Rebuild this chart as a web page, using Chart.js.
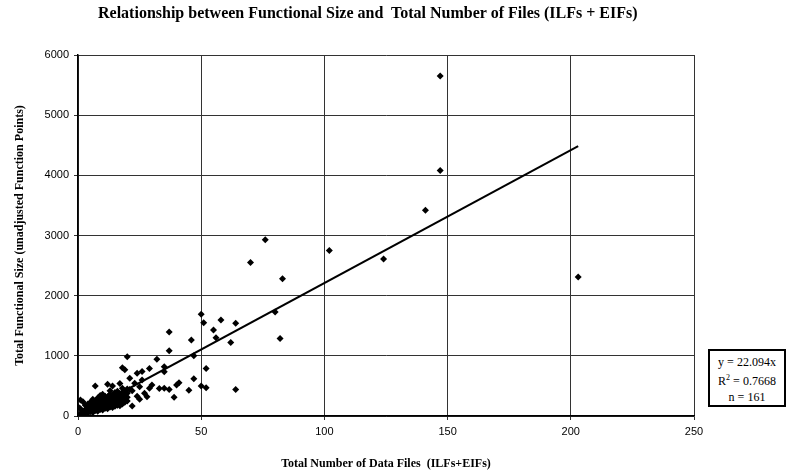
<!DOCTYPE html>
<html>
<head>
<meta charset="utf-8">
<script src="https://cdn.jsdelivr.net/npm/chart.js@4/dist/chart.umd.min.js"></script>
<style>
  body { margin: 0; background: #fff; }
  #wrap { position: relative; width: 793px; height: 471px; }
  #title {
    position: absolute; left: 98px; top: 4px; white-space: pre;
    font-family: "Liberation Serif", "Times New Roman", serif; font-size: 16px;
    font-weight: bold; line-height: 18px; color: #000;
  }
  #statBox {
    position: absolute; left: 708px; top: 349px; width: 78px; height: 58px;
    border: 2px solid #000; box-sizing: border-box;
    font-family: "Liberation Serif", "Times New Roman", serif; font-size: 12px;
    text-align: center; line-height: 16px; padding-top: 3px; background: #fff;
  }
</style>
</head>
<body>
<div id="wrap">
  <canvas id="chart" width="793" height="471"></canvas>
  <div id="title">Relationship between Functional Size and  Total Number of Files (ILFs + EIFs)</div>
  <div id="statBox">y = 22.094x<br>R<sup style="font-size:8px">2</sup> = 0.7668<br>n = 161</div>
</div>
<script>
// data files (ILFs+EIFs) vs functional size (UFP)
const filesX = [
  147, 147, 141, 76, 83, 102, 124, 203, 70,
  50, 51, 58, 64, 37, 46, 55, 56, 62, 37, 80, 82, 47, 52, 32, 29, 26, 35, 35,
  41, 47, 50, 52, 45, 64, 33, 35, 37, 39, 28, 40, 30, 0, 1, 2, 20, 18, 19, 7,
  12, 14, 22, 25, 26, 24, 21, 23, 25, 21, 22, 29, 27, 24, 17,
  1, 1, 2, 2, 3, 3, 3, 4, 4, 4, 4, 5, 5, 5, 5, 6, 6, 6, 6, 6,
  7, 7, 7, 7, 8, 8, 8, 8, 8, 9, 9, 9, 9, 9, 10, 10, 10, 10, 10, 10,
  11, 11, 11, 11, 11, 12, 12, 12, 12, 12, 13, 13, 13, 13, 13, 13,
  14, 14, 14, 14, 14, 15, 15, 15, 15, 15, 16, 16, 16, 16, 16,
  17, 17, 17, 17, 18, 18, 18, 18, 18, 19, 19, 19, 19, 20, 20, 20, 20
];
const sizeY = [
  5650, 4080, 3420, 2930, 2280, 2750, 2610, 2310, 2550,
  1690, 1550, 1595, 1540, 1395, 1262, 1430, 1300, 1220, 1085, 1730, 1290, 1000, 790, 945, 790, 740, 820, 736,
  553, 620, 500, 470, 430, 440, 455, 460, 440, 310, 321, 515, 515, 155, 266, 238, 985, 800, 770, 500,
  527, 498, 166, 277, 600, 710, 626, 543, 488, 440, 420, 460, 380, 330, 540,
  40, 120, 30, 80, 60, 110, 180, 50, 90, 140, 200, 70, 120, 180, 230, 60, 100, 150, 210, 280,
  90, 140, 190, 250, 80, 130, 170, 230, 300, 110, 160, 210, 260, 340, 100, 150, 190, 240, 290, 360,
  130, 180, 220, 280, 330, 120, 170, 230, 270, 320, 150, 200, 250, 300, 360, 420,
  140, 190, 240, 290, 350, 160, 210, 270, 330, 390, 180, 230, 280, 340, 410,
  170, 250, 300, 370, 200, 260, 320, 390, 460, 230, 290, 350, 420, 250, 310, 380, 450
];
const slope = 22.094;
const fitRange = [0, 203];
const xTicks = [0, 50, 100, 150, 200, 250];
const yTicks = [0, 1000, 2000, 3000, 4000, 5000, 6000];

const points = filesX.map((x, i) => ({ x: x, y: sizeY[i] }));
const fitLine = fitRange.map(x => ({ x: x, y: slope * x }));

const serif = "'Liberation Serif', 'Times New Roman', serif";
const sans = "'Liberation Sans', Arial, sans-serif";

new Chart(document.getElementById("chart"), {
  type: "scatter",
  data: {
    datasets: [
      {
        data: points,
        pointStyle: "rectRot",
        pointRadius: 3.5,
        backgroundColor: "#000",
        borderColor: "#000",
        borderWidth: 0
      },
      {
        type: "line",
        data: fitLine,
        borderColor: "#000",
        borderWidth: 2,
        pointRadius: 0,
        fill: false
      }
    ]
  },
  options: {
    responsive: false,
    animation: false,
    layout: { padding: { left: 0, right: 99, top: 55, bottom: 0 } },
    plugins: {
      legend: { display: false },
      tooltip: { enabled: false },
      title: { display: false }
    },
    scales: {
      x: {
        type: "linear",
        min: 0,
        max: 250,
        afterBuildTicks: s => { s.ticks = xTicks.map(v => ({ value: v })); },
        afterFit: s => { s.height = 55; },
        grid: { color: "#333", lineWidth: 1, tickLength: 4, drawTicks: true },
        border: { color: "#000", width: 1.5 },
        ticks: { color: "#000", font: { family: sans, size: 11 }, padding: 5, maxRotation: 0 },
        title: {
          display: true,
          text: "Total Number of Data Files  (ILFs+EIFs)",
          color: "#000",
          font: { family: serif, size: 12, weight: "bold" },
          padding: { top: 8, bottom: 0 }
        }
      },
      y: {
        min: 0,
        max: 6000,
        afterBuildTicks: s => { s.ticks = yTicks.map(v => ({ value: v })); },
        afterFit: s => { s.width = 78; },
        grid: { color: "#333", lineWidth: 1, tickLength: 4, drawTicks: true },
        border: { color: "#000", width: 1.5 },
        ticks: { color: "#000", font: { family: sans, size: 11 }, padding: 5, callback: v => String(v) },
        title: {
          display: true,
          text: "Total Functional Size (unadjusted Function Points)",
          color: "#000",
          font: { family: serif, size: 12, weight: "bold" },
          padding: { top: 13, bottom: 0 }
        }
      }
    }
  }
});
</script>
</body>
</html>
